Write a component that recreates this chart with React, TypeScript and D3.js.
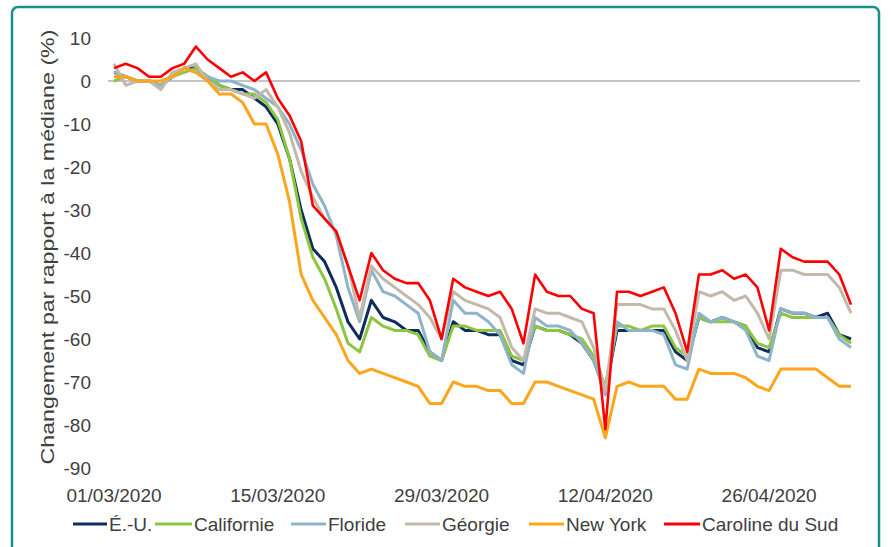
import * as d3 from "d3";

// chart size
const width = 891;
const height = 547;

// daily categories: 01/03/2020 .. 03/05/2020
const startDate = new Date(2020, 2, 1);
const endDate = new Date(2020, 4, 4);
const dates = d3.timeDays(startDate, endDate);

const tickDates = ["01/03/2020", "15/03/2020", "29/03/2020", "12/04/2020", "26/04/2020"];
const yTicks = [10, 0, -10, -20, -30, -40, -50, -60, -70, -80, -90];

const seriesNames = ["É.-U.", "Californie", "Floride", "Géorgie", "New York", "Caroline du Sud"];
const seriesColors = ["#0f2d5c", "#8cc63f", "#8fb4c9", "#c3b9ab", "#fda51d", "#ff0000"];

const us = [2, 1, 0, 0, -1, 1, 3, 3, 1, -1, -2, -2, -4, -6, -10, -18, -30, -39, -42, -48, -56, -60,
  -51, -55, -56, -58, -58, -63, -65, -56, -58, -58, -59, -59, -65, -66, -57, -58, -58, -59, -61, -65,
  -72, -58, -58, -58, -58, -58, -63, -65, -55, -56, -55, -56, -57, -62, -63, -53, -54, -54, -55, -54, -59, -60];
const california = [0, 1, 0, 0, -1, 1, 2, 3, 1, -1, -2, -3, -3, -5, -9, -18, -32, -41, -46, -53, -61, -63,
  -55, -57, -58, -58, -59, -64, -65, -57, -57, -58, -58, -58, -64, -65, -57, -58, -58, -59, -60, -64,
  -71, -57, -57, -58, -57, -57, -62, -64, -55, -56, -56, -56, -57, -61, -62, -54, -55, -55, -55, -55, -59, -61];
const florida = [2, 1, 0, 0, -1, 1, 3, 2, 1, 0, 0, -1, -2, -4, -6, -10, -16, -24, -29, -36, -48, -56,
  -44, -49, -50, -52, -54, -63, -65, -51, -54, -54, -56, -59, -66, -68, -55, -57, -57, -58, -61, -65,
  -73, -56, -58, -58, -58, -59, -66, -67, -54, -56, -55, -56, -58, -64, -65, -53, -54, -54, -55, -55, -60, -62];
const georgia = [4, -1, 0, 0, -2, 2, 3, 4, 0, -2, -2, -3, -4, -2, -6, -12, -21, -27, -32, -35, -43, -55,
  -43, -46, -48, -50, -52, -55, -60, -49, -51, -52, -53, -55, -62, -65, -53, -54, -54, -55, -56, -62,
  -72, -52, -52, -52, -53, -53, -58, -65, -49, -50, -49, -51, -50, -54, -60, -44, -44, -45, -45, -45, -48, -54];
const newYork = [1, 1, 0, 0, 0, 1, 3, 2, 0, -3, -3, -5, -10, -10, -17, -28, -45, -51, -55, -59, -65, -68,
  -67, -68, -69, -70, -71, -75, -75, -70, -71, -71, -72, -72, -75, -75, -70, -70, -71, -72, -73, -74,
  -83, -71, -70, -71, -71, -71, -74, -74, -67, -68, -68, -68, -69, -71, -72, -67, -67, -67, -67, -69, -71, -71];
const southCarolina = [3, 4, 3, 1, 1, 3, 4, 8, 5, 3, 1, 2, 0, 2, -4, -8, -14, -29, -32, -35, -43, -51,
  -40, -44, -46, -47, -47, -51, -60, -46, -48, -49, -50, -49, -53, -61, -45, -49, -50, -50, -53, -54,
  -81, -49, -49, -50, -49, -48, -54, -63, -45, -45, -44, -46, -45, -48, -58, -39, -41, -42, -42, -42, -45, -52];

const allSeries = [us, california, florida, georgia, newYork, southCarolina];

const parseDay = d3.timeParse("%d/%m/%Y");
const fontFamily = "'Liberation Sans', Arial, sans-serif";
const textColor = "#404040";

const x = d3.scaleTime().domain([startDate, dates[dates.length - 1]]).range([114, 851]);
const y = d3.scaleLinear().domain([-90, 10]).range([468, 38]);

const line = d3
  .line<number>()
  .x((_, i) => x(dates[i]))
  .y((v) => y(v));

// legend layout: [line start, text start]
const legendPos = [
  [73, 109],
  [155, 194],
  [291, 328],
  [405, 442],
  [529, 566],
  [664, 702],
];

const App = () => {
  return (
    <svg
      width={width}
      height={height}
      style={{ position: "absolute", left: 0, top: 0, background: "#fff" }}
      fontFamily={fontFamily}
    >
      {/* frame */}
      <rect x={12} y={7} width={867} height={560} rx={6} fill="none" stroke="#17908c" strokeWidth={2.5} />

      {/* y-axis title */}
      <text
        transform={`translate(54, 247) rotate(-90)`}
        textAnchor="middle"
        fontSize={19}
        textLength={435}
        lengthAdjust="spacingAndGlyphs"
        fill={textColor}
      >
        Changement par rapport à la médiane (%)
      </text>

      {/* y tick labels */}
      {yTicks.map((t) => (
        <text key={t} x={91} y={y(t)} dy="0.35em" textAnchor="end" fontSize={19} fill={textColor}>
          {t}
        </text>
      ))}

      {/* zero line */}
      <line x1={108} x2={860} y1={y(0)} y2={y(0)} stroke="#c4c4c4" strokeWidth={2} />

      {/* x tick labels */}
      {tickDates.map((d) => (
        <text key={d} x={x(parseDay(d)!)} y={502} textAnchor="middle" fontSize={19} fill={textColor}>
          {d}
        </text>
      ))}

      {/* series */}
      {allSeries.map((s, i) => (
        <path
          key={seriesNames[i]}
          d={line(s) ?? ""}
          fill="none"
          stroke={seriesColors[i]}
          strokeWidth={i === 5 ? 2.6 : 3}
          strokeLinejoin="round"
        />
      ))}

      {/* legend */}
      {seriesNames.map((name, i) => (
        <g key={name}>
          <line
            x1={legendPos[i][0]}
            x2={legendPos[i][1] - 2}
            y1={524}
            y2={524}
            stroke={seriesColors[i]}
            strokeWidth={3}
          />
          <text x={legendPos[i][1]} y={524} dy="0.35em" fontSize={19} fill={textColor}>
            {name}
          </text>
        </g>
      ))}
    </svg>
  );
};

export default App;
